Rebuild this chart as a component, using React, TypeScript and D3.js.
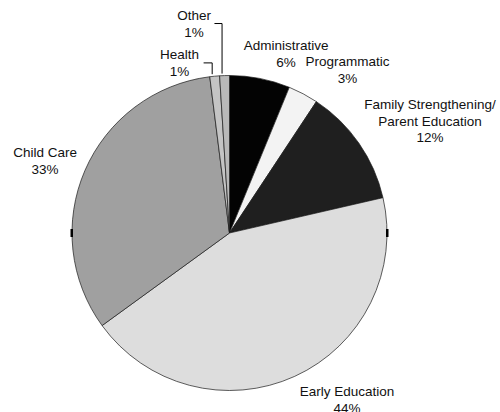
import React from 'react';
import * as d3 from 'd3';

// 預算分配 (%)
const categories = ['Administrative', 'Programmatic', 'Family Strengthening/\nParent Education', 'Early Education', 'Child Care', 'Health', 'Other'];
const values = [6.2, 3.1, 12.1, 43.6, 33.0, 1.0, 1.0];
const colors = ['#030303', '#f3f3f3', '#1f1f1f', '#dddddd', '#a0a0a0', '#c4c4c4', '#b9b9b9'];

const W = 500;
const H = 412;
const cx = 229.5;
const cy = 233;
const R = 157.5;
const fontSize = 13.5;
const lineH = 16.7;

// 標籤位置 (相對圓心, 以半徑為單位)
const labelPos: [number, number][] = [
    [0.359, -1.14],
    [0.749, -1.035],
    [1.273, -0.711],
    [0.746, 1.057],
    [-1.171, -0.457],
    [-0.318, -1.08],
    [-0.225, -1.33],
];
// 需要引導線的標籤
const leaderIdx = [5, 6];

const App: React.FC = () => {
    const pie = d3.pie<number>().sort(null).value(d => d);
    const arcs = pie(values);
    const arc = d3.arc<d3.PieArcDatum<number>>().innerRadius(0).outerRadius(R);

    return (
        <svg width={W} height={H} style={{position: 'absolute', left: 0, top: 0, background: '#fff'}}
             fontFamily="Liberation Sans, Arial, sans-serif" fontSize={fontSize}>
            <g transform={`translate(${cx},${cy})`}>
                {arcs.map((a, i) => (
                    <path key={i} d={arc(a) as string} fill={colors[i]} stroke="#1a1a1a" strokeWidth={0.7}/>
                ))}
                <rect x={-R - 1.5} y={-4} width={2.5} height={8} fill="#000"/>
                <rect x={R - 1} y={-4} width={2.5} height={8} fill="#000"/>
                {arcs.map((a, i) => {
                    const lines = categories[i].split('\n').concat(`${Math.round(values[i])}%`);
                    const lx = labelPos[i][0] * R;
                    const ly = labelPos[i][1] * R;
                    const top = ly - ((lines.length - 1) * lineH) / 2;
                    let leader = null;
                    if (leaderIdx.includes(i)) {
                        const mid = (a.startAngle + a.endAngle) / 2;
                        const ex = Math.sin(mid) * R;
                        const ey = -Math.cos(mid) * R;
                        const w = d3.max(lines, l => l.length)! * fontSize * 0.28;
                        leader = (
                            <polyline points={`${lx + w + 1.5},${ly} ${ex - 2.5},${ly} ${ex - 2.5},${ey - 2}`}
                                      fill="none" stroke="#000" strokeWidth={1}/>
                        );
                    }
                    return (
                        <g key={i}>
                            {leader}
                            {lines.map((l, j) => (
                                <text key={j} x={lx} y={top + j * lineH} textAnchor="middle" dy="0.35em" fill="#111">{l}</text>
                            ))}
                        </g>
                    );
                })}
            </g>
        </svg>
    );
};

export default App;
